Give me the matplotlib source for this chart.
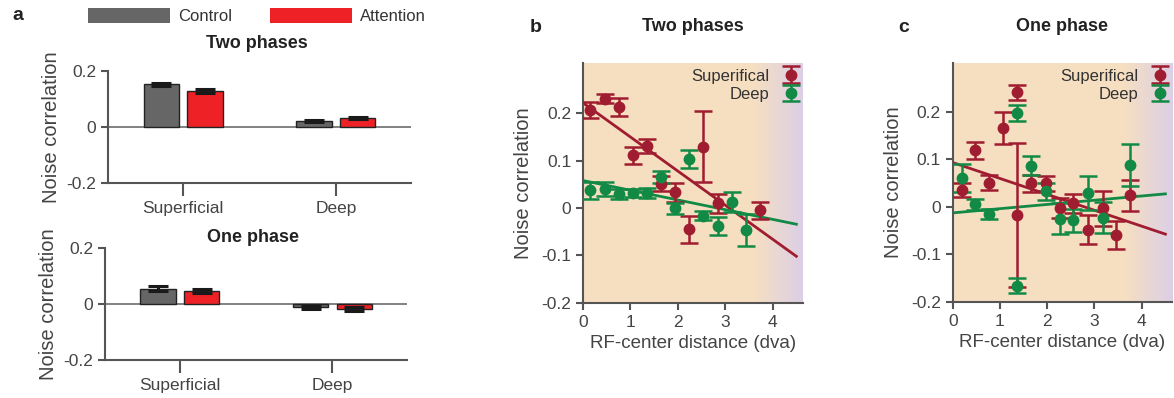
import numpy as np
import matplotlib
matplotlib.use("Agg")
import matplotlib.pyplot as plt
from matplotlib.colors import LinearSegmentedColormap
from matplotlib.patches import Patch

plt.rcParams['font.family'] = ['Liberation Sans', 'DejaVu Sans']

# ---------------- data ----------------
layers = ["Superficial", "Deep"]
two_ctrl = [0.153, 0.021]
two_ctrl_err = [0.006, 0.004]
two_att = [0.129, 0.032]
two_att_err = [0.006, 0.004]
one_ctrl = [0.055, -0.011]
one_ctrl_err = [0.008, 0.005]
one_att = [0.046, -0.018]
one_att_err = [0.007, 0.006]

# panel b (two phases)
b_sup_x = [0.15, 0.46, 0.75, 1.05, 1.35, 1.65, 1.94, 2.24, 2.54, 2.85, 3.74]
b_sup_y = [0.207, 0.231, 0.213, 0.111, 0.131, 0.051, 0.033, -0.045, 0.129, 0.010, -0.005]
b_sup_e = [0.016, 0.010, 0.019, 0.018, 0.014, 0.016, 0.020, 0.029, 0.075, 0.020, 0.018]
b_deep_x = [0.15, 0.46, 0.75, 1.05, 1.35, 1.65, 1.94, 2.24, 2.54, 2.85, 3.14, 3.44]
b_deep_y = [0.037, 0.040, 0.030, 0.032, 0.032, 0.066, -0.001, 0.103, -0.016, -0.037, 0.012, -0.047]
b_deep_e = [0.017, 0.014, 0.010, 0.008, 0.010, 0.013, 0.012, 0.019, 0.010, 0.019, 0.021, 0.034]
b_sup_fit = [-0.072, 0.222]    # slope, intercept
b_deep_fit = [-0.0205, 0.058]

# panel c (one phase)
c_sup_x = [0.19, 0.47, 0.76, 1.06, 1.35, 1.35, 1.65, 1.97, 2.26, 2.55, 2.86, 3.17, 3.46, 3.75]
c_sup_y = [0.035, 0.119, 0.051, 0.166, 0.241, -0.018, 0.049, 0.049, -0.002, 0.007, -0.048, -0.003, -0.060, 0.024]
c_sup_e = [0.015, 0.018, 0.016, 0.034, 0.016, 0.152, 0.017, 0.016, 0.021, 0.020, 0.030, 0.037, 0.029, 0.032]
c_deep_x = [0.19, 0.47, 0.76, 1.35, 1.35, 1.65, 1.97, 2.26, 2.55, 2.86, 3.17, 3.75]
c_deep_y = [0.061, 0.005, -0.015, 0.197, -0.166, 0.086, 0.033, -0.025, -0.029, 0.029, -0.023, 0.088]
c_deep_e = [0.030, 0.011, 0.011, 0.017, 0.015, 0.020, 0.018, 0.032, 0.025, 0.036, 0.033, 0.044]
c_sup_fit = [-0.0335, 0.093]
c_deep_fit = [0.0089, -0.013]

fit_x = [0.0, 4.5]

# ---------------- style ----------------
C_CTRL = '#666666'
C_ATT = '#ee2126'
C_SUP = '#a01c30'
C_DEEP = '#128a46'
GRAY = '#555555'
TXT = '#333333'

fig = plt.figure(figsize=(11.74, 3.98), dpi=100)
W, H = 1174, 398


def ax_px(l, r, b, t):
    return fig.add_axes([l / W, 1 - b / H, (r - l) / W, (b - t) / H])


def style_axes(ax):
    for s in ['top', 'right']:
        ax.spines[s].set_visible(False)
    for s in ['left', 'bottom']:
        ax.spines[s].set_color(GRAY)
        ax.spines[s].set_linewidth(1.5)
    ax.tick_params(direction='out', length=5, width=1.5, color=GRAY,
                   labelcolor='#444444', labelsize=12.5)


def bar_panel(ax, ctrl, ctrl_e, att, att_e):
    x = np.arange(len(layers))
    ekw = dict(elinewidth=2.2, capthick=2.2, ecolor='#1a1a1a')
    ax.axhline(0, color='#777777', lw=1.3, zorder=1)
    ax.bar(x - 0.143, ctrl, width=0.23, color=C_CTRL, edgecolor='#222222',
           linewidth=1.0, yerr=ctrl_e, capsize=7.5, error_kw=ekw, zorder=2)
    ax.bar(x + 0.143, att, width=0.23, color=C_ATT, edgecolor='#222222',
           linewidth=1.0, yerr=att_e, capsize=7.5, error_kw=ekw, zorder=2)
    ax.set_xlim(-0.49, 1.49)
    ax.set_ylim(-0.2, 0.2)
    ax.set_yticks([-0.2, 0, 0.2])
    ax.set_yticklabels(['-0.2', '0', '0.2'])
    ax.set_xticks(x)
    ax.set_xticklabels(layers, fontsize=13, color=TXT)
    style_axes(ax)
    ax.tick_params(axis='x', length=9, pad=4)
    ax.set_ylabel('Noise correlation', fontsize=14.5, color='#444444', labelpad=4)


ax_a1 = ax_px(108.3, 410.7, 183.3, 71)
bar_panel(ax_a1, two_ctrl, two_ctrl_err, two_att, two_att_err)
ax_a2 = ax_px(105, 407.3, 360.3, 247.7)
bar_panel(ax_a2, one_ctrl, one_ctrl_err, one_att, one_att_err)
fig.text(257 / W, 1 - 43 / H, 'Two phases', fontsize=13, fontweight='bold',
         color='#222222', ha='center', va='center')
fig.text(253 / W, 1 - 237 / H, 'One phase', fontsize=13, fontweight='bold',
         color='#222222', ha='center', va='center')

handles = [Patch(facecolor=C_CTRL, edgecolor='none'), Patch(facecolor=C_ATT, edgecolor='none')]
fig.legend(handles, ['Control', 'Attention'], loc='center left',
           bbox_to_anchor=(88 / W, 1 - 16 / H), ncol=2, frameon=False,
           handlelength=4.9, handleheight=1.0, handletextpad=0.5,
           columnspacing=2.3, borderpad=0, borderaxespad=0,
           fontsize=12, labelcolor='#333333')

cmap_bg = LinearSegmentedColormap.from_list('bg', ['#f6dfc1', '#dccfe6'])


def scatter_panel(ax, xmax, ytop, sx, sy, se, dx, dy, de, sfit, dfit, title):
    grad = np.linspace(0, xmax, 400)
    grad = np.clip((grad - 3.6) / (xmax - 3.6), 0, 1)
    ax.imshow(grad[None, :], aspect='auto', cmap=cmap_bg, vmin=0, vmax=1,
              extent=(0, xmax, -0.2, ytop), zorder=0, interpolation='bilinear')
    kw = dict(fmt='o', ms=7.5, capsize=6.5, elinewidth=1.8, capthick=1.8, zorder=3)
    hs = ax.errorbar(sx, sy, yerr=se, color=C_SUP, **kw)
    hd = ax.errorbar(dx, dy, yerr=de, color=C_DEEP, **kw)
    fx = np.array(fit_x)
    ax.plot(fx, np.polyval(sfit, fx), color=C_SUP, lw=2, zorder=2)
    ax.plot(fx, np.polyval(dfit, fx), color=C_DEEP, lw=2, zorder=2)
    ax.set_xlim(0, xmax)
    ax.set_ylim(-0.2, ytop)
    ax.set_yticks([-0.2, -0.1, 0, 0.1, 0.2])
    ax.set_yticklabels(['-0.2', '-0.1', '0', '0.1', '0.2'])
    ax.set_xticks([0, 1, 2, 3, 4])
    style_axes(ax)
    ax.spines['left'].set_bounds(-0.2, ytop)
    ax.set_xlabel('RF-center distance (dva)', fontsize=13.5, color='#444444', labelpad=4)
    ax.set_ylabel('Noise correlation', fontsize=14.5, color='#444444', labelpad=6)
    ax.set_title(title, fontsize=13, fontweight='bold', color='#222222', pad=23)
    ax.legend([hs, hd], ['Superifical', 'Deep'], loc='upper right',
              bbox_to_anchor=(1.03, 1.02), markerfirst=False, frameon=False,
              handlelength=1.0, handletextpad=0.8, labelspacing=0.2,
              borderpad=0.1, fontsize=12, labelcolor='#333333')


ax_b = ax_px(583, 803, 302.7, 63.3)
scatter_panel(ax_b, 4.64, 0.3056, b_sup_x, b_sup_y, b_sup_e, b_deep_x, b_deep_y,
              b_deep_e, b_sup_fit, b_deep_fit, 'Two phases')
ax_c = ax_px(952.7, 1172, 301.7, 63.3)
scatter_panel(ax_c, 4.64, 0.302, c_sup_x, c_sup_y, c_sup_e, c_deep_x, c_deep_y,
              c_deep_e, c_sup_fit, c_deep_fit, 'One phase')

fig.text(12 / W, 1 - 16 / H, 'a', fontsize=14, fontweight='bold', color='#222222', va='center', ha='left')
fig.text(530 / W, 1 - 28 / H, 'b', fontsize=14, fontweight='bold', color='#222222', va='center', ha='left')
fig.text(898 / W, 1 - 28 / H, 'c', fontsize=14, fontweight='bold', color='#222222', va='center', ha='left')

fig.savefig('out.png', dpi=100)
